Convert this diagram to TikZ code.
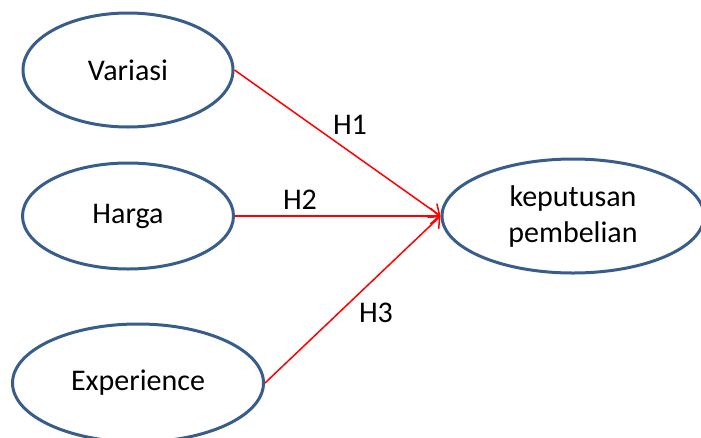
\documentclass[tikz,border=0pt]{standalone}
\usepackage{fontspec}
\setmainfont{Carlito}
\usetikzlibrary{shapes.geometric,arrows.meta}

\definecolor{outline}{HTML}{385D8A}

\begin{document}
\begin{tikzpicture}[
    x=1pt, y=-1pt,
    every node/.style={font=\fontsize{30}{36}\selectfont},
    construct/.style={ellipse, draw=outline, line width=3pt, inner sep=0pt, align=center},
    arrow/.style={-{Straight Barb[length=9pt,width=16pt]}, red, line width=1.5pt}
]
\useasboundingbox (0,0) rectangle (701,437);

% Independent variables
\node[construct, minimum width=210, minimum height=114] (variasi) at (128,70) {Variasi};
\node[construct, minimum width=211, minimum height=106] (harga) at (128,216) {Harga};
\node[construct, minimum width=251, minimum height=118] (experience) at (138,383) {Experience};

% Dependent variable
\node[construct, minimum width=262, minimum height=114] (keputusan) at (573,216) {keputusan\\pembelian};

% Hypotheses
\draw[arrow] (variasi.east) -- (keputusan.west);
\draw[arrow] (harga.east) -- (keputusan.west);
\draw[arrow] (experience.east) -- (keputusan.west);

\node (h1) at (350,125) {H1};
\node (h2) at (300,200) {H2};
\node (h3) at (376,313) {H3};

\end{tikzpicture}
\end{document}
